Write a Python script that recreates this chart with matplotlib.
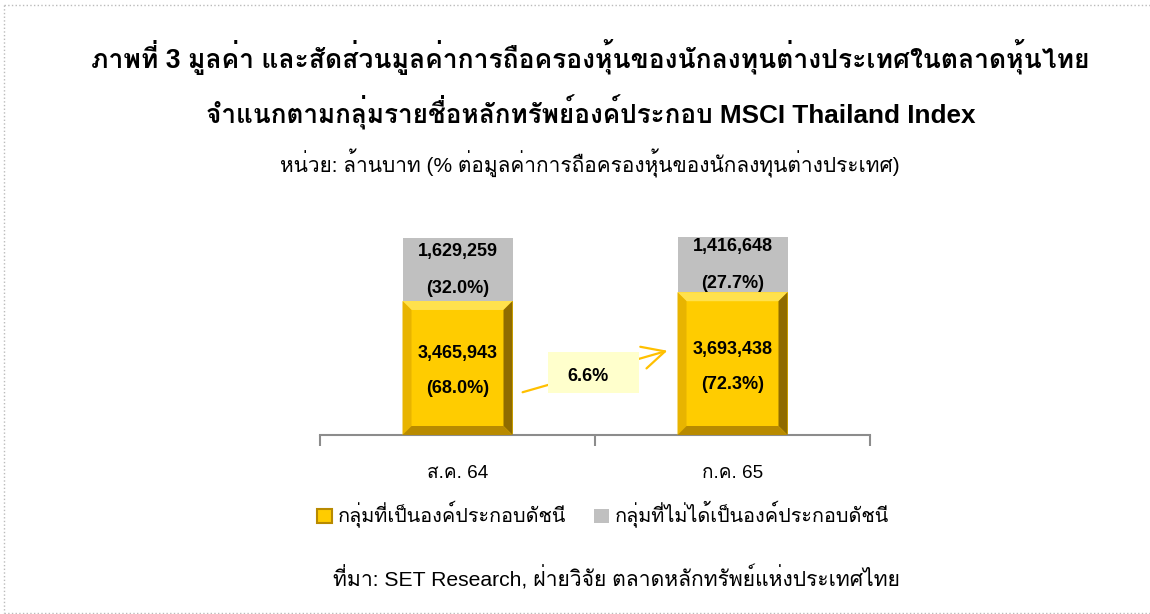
import numpy as np
import matplotlib.pyplot as plt
from matplotlib.patches import Rectangle, Polygon
from matplotlib.lines import Line2D

plt.rcParams['font.family'] = ['Liberation Sans', 'Loma', 'DejaVu Sans']

categories = ['ส.ค. 64', 'ก.ค. 65']
index_vals = [3465943, 3693438]
other_vals = [1629259, 1416648]
index_pct = [68.0, 72.3]
other_pct = [32.0, 27.7]
growth = 6.6

title1 = 'ภาพที่ 3 มูลค่า และสัดส่วนมูลค่าการถือครองหุ้นของนักลงทุนต่างประเทศในตลาดหุ้นไทย'
title2 = 'จำแนกตามกลุ่มรายชื่อหลักทรัพย์องค์ประกอบ MSCI Thailand Index'
unit = 'หน่วย: ล้านบาท (% ต่อมูลค่าการถือครองหุ้นของนักลงทุนต่างประเทศ)'
legend_labels = ['กลุ่มที่เป็นองค์ประกอบดัชนี', 'กลุ่มที่ไม่ได้เป็นองค์ประกอบดัชนี']
source = 'ที่มา: SET Research, ฝ่ายวิจัย ตลาดหลักทรัพย์แห่งประเทศไทย'

W, H = 1150, 614
fig = plt.figure(figsize=(W/100, H/100), dpi=100)
ax = fig.add_axes([320/W, (H-435)/H, 550/W, 220/H])
ymax = 5.69e6
ax.set_xlim(-0.5, 1.5)
ax.set_ylim(0, ymax)
px_x = 2.0 / 550
px_y = ymax / 220

x = np.arange(len(categories))
w = 0.4
gold = '#FFCC00'
grey = '#C0C0C0'
b1 = ax.bar(x, index_vals, w, color=gold, zorder=2)
b2 = ax.bar(x, other_vals, w, bottom=index_vals, color=grey, zorder=2)

# bevel on the gold bars
for r in b1:
    x0, y0, bw, bh = r.get_x(), r.get_y(), r.get_width(), r.get_height()
    x1, y1 = x0 + bw, y0 + bh
    dx, dy = 9 * px_x, 9 * px_y
    sides = [
        ([(x0, y1), (x1, y1), (x1 - dx, y1 - dy), (x0 + dx, y1 - dy)], '#FFE14D'),
        ([(x0, y0), (x0, y1), (x0 + dx, y1 - dy), (x0 + dx, y0 + dy)], '#E8B400'),
        ([(x1, y0), (x1, y1), (x1 - dx, y1 - dy), (x1 - dx, y0 + dy)], '#8F6B00'),
        ([(x0, y0), (x1, y0), (x1 - dx, y0 + dy), (x0 + dx, y0 + dy)], '#B88A00'),
    ]
    for pts, c in sides:
        ax.add_patch(Polygon(pts, closed=True, facecolor=c, edgecolor='none', zorder=3))

for s in ['top', 'right', 'left']:
    ax.spines[s].set_visible(False)
ax.spines['bottom'].set_color('#8C8C8C')
ax.spines['bottom'].set_linewidth(1.5)
ax.set_yticks([])
ax.set_xticks([-0.5, 0.5, 1.5])
ax.set_xticklabels([])
ax.tick_params(axis='x', length=8, width=1.5, color='#8C8C8C')
for i, c in enumerate(categories):
    ax.annotate(c, (x[i], 0), xytext=(0, -27.5), textcoords='offset points',
                ha='center', va='center', fontsize=13.7)

lab = dict(ha='center', va='center', fontsize=13, fontweight='bold', zorder=5,
           textcoords='offset points')
for i in range(len(categories)):
    yc = index_vals[i] / 2
    ax.annotate(f'{index_vals[i]:,}', (x[i], yc), xytext=(0, 10.5), **lab)
    ax.annotate(f'({index_pct[i]:.1f}%)', (x[i], yc), xytext=(0, -15), **lab)
    yc = index_vals[i] + other_vals[i] / 2
    ax.annotate(f'{other_vals[i]:,}', (x[i], yc), xytext=(0, 13), **lab)
    ax.annotate(f'({other_pct[i]:.1f}%)', (x[i], yc), xytext=(0, -13.5), **lab)

ax.annotate('', xy=(0.773, 2.2e6), xytext=(0.227, 1.086e6),
            arrowprops=dict(arrowstyle='->,head_length=0.9,head_width=0.45',
                            color='#FFC000', lw=1.6, mutation_scale=18), zorder=4)
bx, by = 0.493, 1.616e6
ax.add_patch(Rectangle((bx - 45.5 * px_x, by - 20.5 * px_y), 91 * px_x, 41 * px_y,
                       facecolor='#FFFFCC', edgecolor='none', zorder=5))
ax.text(bx - 0.02, by - 4 * px_y, f'{growth:.1f}%', ha='center', va='center', fontsize=13,
        fontweight='bold', zorder=6)

fig.text(590/W, 1 - 57/H, title1, ha='center', va='center', fontsize=19.1, fontweight='bold')
fig.text(591/W, 1 - 112/H, title2, ha='center', va='center', fontsize=18.8, fontweight='bold')
fig.text(590/W, 1 - 163/H, unit, ha='center', va='center', fontsize=15)

handles = [Rectangle((0, 0), 1, 1, facecolor=gold, edgecolor='#B88A00', linewidth=1.5),
           Rectangle((0, 0), 1, 1, facecolor=grey, edgecolor='none')]
fig.legend(handles, legend_labels, loc='center', bbox_to_anchor=(603/W, 1 - 515/H),
           ncol=2, frameon=False, fontsize=14.3, handlelength=0.75, handleheight=0.75,
           handletextpad=0.3, columnspacing=1.4)
fig.text(616/W, 1 - 578/H, source, ha='center', va='center', fontsize=15.2)

# dotted frame
for xs, ys in [([4, 1150], [5, 5]), ([4, 4], [5, 613]), ([4, 1150], [613, 613])]:
    fig.add_artist(Line2D([v / W for v in xs], [1 - v / H for v in ys],
                          color='#BBBBBB', linestyle=':', linewidth=1))

fig.savefig('out.png', dpi=100)
